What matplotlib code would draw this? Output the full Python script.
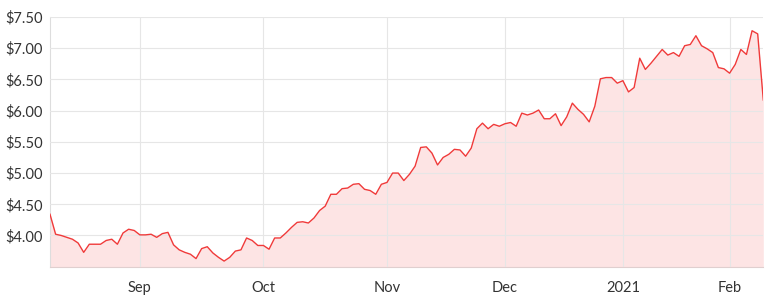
import numpy as np
import pandas as pd
import matplotlib
matplotlib.use("Agg")
import matplotlib.pyplot as plt

# ASX trading days, 10 Aug 2020 - 9 Feb 2021
holidays = ["2020-12-25", "2020-12-28", "2021-01-01", "2021-01-26"]
dates = pd.bdate_range("2020-08-10", "2021-02-09", freq="C", holidays=holidays)

prices = [
    4.34, 4.02, 4.00, 3.97, 3.94, 3.88, 3.73, 3.86, 3.86, 3.86,
    3.92, 3.94, 3.86, 4.04, 4.10, 4.08, 4.01, 4.01, 4.02, 3.97,
    4.03, 4.05, 3.85, 3.77, 3.73, 3.70, 3.63, 3.79, 3.82, 3.72,
    3.65, 3.59, 3.65, 3.75, 3.77, 3.96, 3.92, 3.84, 3.84, 3.78,
    3.96, 3.96, 4.04, 4.13, 4.21, 4.22, 4.20, 4.28, 4.40, 4.47,
    4.66, 4.66, 4.75, 4.76, 4.82, 4.83, 4.74, 4.72, 4.66, 4.82,
    4.85, 5.00, 5.00, 4.88, 4.98, 5.11, 5.41, 5.42, 5.32, 5.13,
    5.25, 5.30, 5.38, 5.37, 5.27, 5.40, 5.71, 5.80, 5.71, 5.78,
    5.75, 5.79, 5.81, 5.75, 5.96, 5.93, 5.96, 6.01, 5.87, 5.87,
    5.95, 5.76, 5.90, 6.12, 6.02, 5.94, 5.82, 6.07, 6.51, 6.53,
    6.53, 6.44, 6.48, 6.30, 6.37, 6.84, 6.66, 6.76, 6.87, 6.98,
    6.89, 6.93, 6.87, 7.04, 7.06, 7.20, 7.04, 6.99, 6.93, 6.69,
    6.67, 6.60, 6.74, 6.98, 6.90, 7.28, 7.23, 6.17,
]

y_ticks = [4.0, 4.5, 5.0, 5.5, 6.0, 6.5, 7.0, 7.5]
month_labels = ["Sep", "Oct", "Nov", "Dec", "2021", "Feb"]

# first trading day of each month from September
idx = np.arange(len(prices))
month_keys = dates.to_period("M")
first_days = [i for i in range(1, len(dates)) if month_keys[i] != month_keys[i - 1]]

plt.rcParams["font.family"] = ["Lato", "DejaVu Sans"]

fig = plt.figure(figsize=(7.76, 3.05), dpi=100)
ax = fig.add_axes([50 / 776, 1 - 266.7 / 305, (763.3 - 50) / 776, (266.7 - 17) / 305])

ax.fill_between(idx, prices, 3.5, color="#fde4e4", linewidth=0, zorder=1)
ax.plot(idx, prices, color="#f03a3a", linewidth=1.0, zorder=3)

ax.set_xlim(0, len(prices) - 1)
ax.set_ylim(3.5, 7.5)
ax.set_yticks(y_ticks)
ax.set_yticklabels(["${:.2f}".format(v) for v in y_ticks])
ax.set_xticks(first_days)
ax.set_xticklabels(month_labels)

ax.grid(True, color="#e6e6e6", linewidth=0.8, zorder=2)
ax.set_axisbelow(False)
ax.tick_params(length=0, labelsize=10.5, colors="#333333")
ax.tick_params(axis="x", pad=10)
ax.tick_params(axis="y", pad=5)

for s in ["top", "right"]:
    ax.spines[s].set_visible(False)
ax.spines["left"].set_color("#dddddd")
ax.spines["bottom"].set_color("#e0cfcf")
ax.spines["left"].set_linewidth(0.8)
ax.spines["bottom"].set_linewidth(0.8)

fig.savefig("out.png", dpi=100, facecolor="white")
